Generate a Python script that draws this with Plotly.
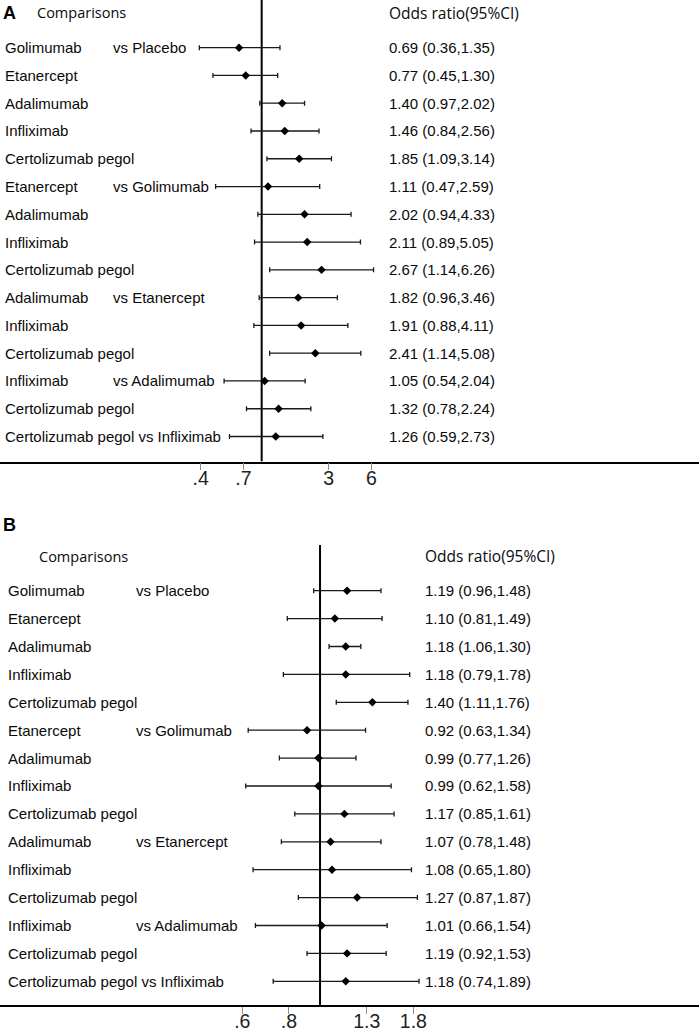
import numpy as np
import plotly.graph_objects as go

# comparison labels (same for both panels)
treatments = ["Golimumab", "Etanercept", "Adalimumab", "Infliximab", "Certolizumab pegol",
              "Etanercept", "Adalimumab", "Infliximab", "Certolizumab pegol",
              "Adalimumab", "Infliximab", "Certolizumab pegol",
              "Infliximab", "Certolizumab pegol",
              "Certolizumab pegol vs Infliximab"]
comparators = ["vs Placebo", "", "", "", "",
               "vs Golimumab", "", "", "",
               "vs Etanercept", "", "",
               "vs Adalimumab", "",
               ""]

# panel A odds ratios
or_a = [0.69, 0.77, 1.40, 1.46, 1.85, 1.11, 2.02, 2.11, 2.67, 1.82, 1.91, 2.41, 1.05, 1.32, 1.26]
lo_a = [0.36, 0.45, 0.97, 0.84, 1.09, 0.47, 0.94, 0.89, 1.14, 0.96, 0.88, 1.14, 0.54, 0.78, 0.59]
hi_a = [1.35, 1.30, 2.02, 2.56, 3.14, 2.59, 4.33, 5.05, 6.26, 3.46, 4.11, 5.08, 2.04, 2.24, 2.73]

# panel B odds ratios
or_b = [1.19, 1.10, 1.18, 1.18, 1.40, 0.92, 0.99, 0.99, 1.17, 1.07, 1.08, 1.27, 1.01, 1.19, 1.18]
lo_b = [0.96, 0.81, 1.06, 0.79, 1.11, 0.63, 0.77, 0.62, 0.85, 0.78, 0.65, 0.87, 0.66, 0.92, 0.74]
hi_b = [1.48, 1.49, 1.30, 1.78, 1.76, 1.34, 1.26, 1.58, 1.61, 1.48, 1.80, 1.87, 1.54, 1.53, 1.89]

# axis ticks (placed on the log-OR scale, labelled with rounded OR)
tick_ln_a = [-1.0, -0.3, 1.1, 1.8]
tick_text_a = [".4", ".7", "3", "6"]
tick_ln_b = [-0.5, -0.2, 0.3, 0.6]
tick_text_b = [".6", ".8", "1.3", "1.8"]

W, H = 699, 1031
LABEL_FONT = dict(family="Liberation Sans, Arial", size=15, color="#0a0a0a")
rows = list(range(len(treatments)))

fig = go.Figure()


def add_panel(n, ors, los, his, tick_ln, tick_text, xrange_ln, ydomain, yrange,
              name_x, vs_x, or_x, head_x, head_y, letter, letter_y):
    xa = "x" if n == 1 else "x%d" % n
    ya = "y" if n == 1 else "y%d" % n
    # null line at OR = 1
    fig.add_trace(go.Scatter(x=[1, 1], y=yrange, mode="lines",
                             line=dict(color="black", width=2),
                             xaxis=xa, yaxis=ya, hoverinfo="skip"))
    fig.add_trace(go.Scatter(x=ors, y=rows, mode="markers",
                             marker=dict(symbol="diamond", size=6.5, color="black"),
                             error_x=dict(type="data", symmetric=False,
                                          array=[h - o for h, o in zip(his, ors)],
                                          arrayminus=[o - l for o, l in zip(ors, los)],
                                          color="#1a1a1a", thickness=1.3, width=2.5),
                             xaxis=xa, yaxis=ya))
    fig.update_layout(**{
        "xaxis" + ("" if n == 1 else str(n)): dict(
            type="log", range=[v / np.log(10) for v in xrange_ln], domain=[0, 1],
            anchor=ya, showline=True, linecolor="black", linewidth=1.5,
            ticks="outside", ticklen=7, tickwidth=1, tickcolor="#8c8c8c",
            tickvals=list(np.exp(tick_ln)), ticktext=tick_text, ticklabelstandoff=-9,
            tickfont=dict(family="Liberation Sans, Arial", size=19.5, color="#222"),
            showgrid=False, zeroline=False, automargin=False, fixedrange=True),
        "yaxis" + ("" if n == 1 else str(n)): dict(
            domain=ydomain, range=yrange, visible=False, anchor=xa,
            automargin=False, fixedrange=True),
    })
    for i in rows:
        fig.add_annotation(x=name_x / W, y=i, xref="paper", yref=ya, text=treatments[i],
                           xanchor="left", showarrow=False, font=LABEL_FONT)
        if comparators[i]:
            fig.add_annotation(x=vs_x / W, y=i, xref="paper", yref=ya, text=comparators[i],
                               xanchor="left", showarrow=False, font=LABEL_FONT)
        fig.add_annotation(x=or_x / W, y=i, xref="paper", yref=ya,
                           text="%.2f (%.2f,%.2f)" % (ors[i], los[i], his[i]),
                           xanchor="left", showarrow=False, font=LABEL_FONT)
    fig.add_annotation(x=head_x / W, y=head_y, xref="paper", yref=ya, text="Comparisons",
                       xanchor="left", showarrow=False,
                       font=dict(family="Open Sans, Noto Sans", size=14.5, color="#0a0a0a"))
    fig.add_annotation(x=or_x / W, y=head_y, xref="paper", yref=ya, text="Odds ratio(95%CI)",
                       xanchor="left", showarrow=False,
                       font=dict(family="Open Sans, Noto Sans", size=15.5, color="#0a0a0a"))
    fig.add_annotation(x=1 / W, y=1 - letter_y / H, xref="paper", yref="paper",
                       text="<b>%s</b>" % letter, xanchor="left", yanchor="middle",
                       showarrow=False,
                       font=dict(family="Liberation Sans, Arial", size=18, color="black"))


add_panel(1, or_a, lo_a, hi_a, tick_ln_a, tick_text_a, [-4.29, 7.17],
          [1 - 461.5 / H, 1.0], [14.9, -1.716],
          2.5, 111, 387, 35, -1.25, "A", 13)
add_panel(2, or_b, lo_b, hi_b, tick_ln_b, tick_text_b, [-2.058, 2.437],
          [1 - 1005 / H, 1 - 545 / H], [14.85, -1.638],
          5.5, 134, 423, 37, -1.24, "B", 525)

fig.update_layout(width=W, height=H, margin=dict(l=0, r=0, t=0, b=0),
                  paper_bgcolor="white", plot_bgcolor="white", showlegend=False)

fig.write_html("out.html", config={"displayModeBar": False},
               post_script="document.body.style.margin='0px';")
